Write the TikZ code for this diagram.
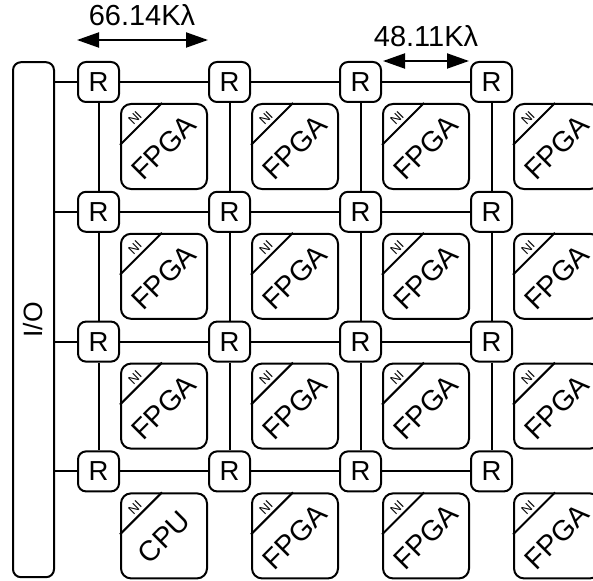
\documentclass[tikz,border=0pt]{standalone}
\usepackage{fontspec}
\setmainfont{Liberation Sans}
\usetikzlibrary{positioning,arrows.meta,calc}
\tikzset{
  router/.style={draw,line width=2pt,rounded corners=8pt,minimum width=41pt,minimum height=40pt,inner sep=0pt,font=\fontsize{27.5}{30}\selectfont},
  tile/.style={draw,line width=2pt,rounded corners=10pt,minimum width=86pt,minimum height=85pt,inner sep=0pt},
  iobox/.style={draw,line width=2pt,rounded corners=8pt,minimum width=41pt,minimum height=515pt,inner sep=0pt},
  link/.style={draw,line width=2pt},
  dim/.style={{Triangle[length=22pt,width=15pt]}-{Triangle[length=22pt,width=15pt]},line width=2pt},
  dimlbl/.style={font=\fontsize{29}{32}\selectfont,anchor=base,inner sep=0pt},
  chip/.style={rotate=45,font=\fontsize{28.5}{30}\selectfont,inner sep=0pt},
  ni/.style={rotate=45,font=\fontsize{13}{14}\selectfont,inner sep=0pt}}
\begin{document}
\begin{tikzpicture}[x=1pt,y=1pt]
  \clip (0,0) rectangle (593,-580);
  % routers and tiles
  \foreach \i in {1,...,4}{
    \foreach \j in {1,...,4}{
      \node[router] (r\i\j) at ({98.5+131*(\j-1)},{-82-129.8*(\i-1)}) {R};
      \node[tile,anchor=north west] (t\i\j) at (r\i\j.south east) {};
      \draw[link] ($(t\i\j.north west)+(0,-42)$) -- ($(t\i\j.north west)+(42,0)$);
      \node[ni] (n\i\j) at ($(t\i\j.north west)+(15,-15)$) {NI};
      \def\chipname{FPGA}
      \ifnum\i\j=41 \def\chipname{CPU}\fi
      \node[chip] (c\i\j) at ($(t\i\j)+(0,-1)$) {\chipname};
    }
  }
  \node[iobox] (io) at (33.5,-319.7) {};
  \node[rotate=90,font=\fontsize{26.5}{30}\selectfont] (iol) at (io) {I/O};
  % links
  \foreach \i in {1,...,4}{
    \draw[link] (io.east |- r\i1) -- (r\i1);
    \foreach \j/\k in {1/2,2/3,3/4}
      \draw[link] (r\i\j) -- (r\i\k);
  }
  \foreach \i/\k in {1/2,2/3,3/4}{
    \foreach \j in {1,...,4}
      \draw[link] (r\i\j) -- (r\k\j);
  }
  % pitch marks
  \coordinate (a1) at ($(r11.west)+(0,42)$);
  \coordinate (a2) at ($(r12.west)+(0,42)$);
  \draw[dim] (a1) -- (a2);
  \node[dimlbl] (l1) at (142,-26) {66.14Kλ};
  \coordinate (b1) at ($(r13.east)+(1,21)$);
  \coordinate (b2) at ($(r14.west)+(-1,21)$);
  \draw[dim] (b1) -- (b2);
  \node[dimlbl] (l2) at (426,-47) {48.11Kλ};
\end{tikzpicture}
\end{document}
